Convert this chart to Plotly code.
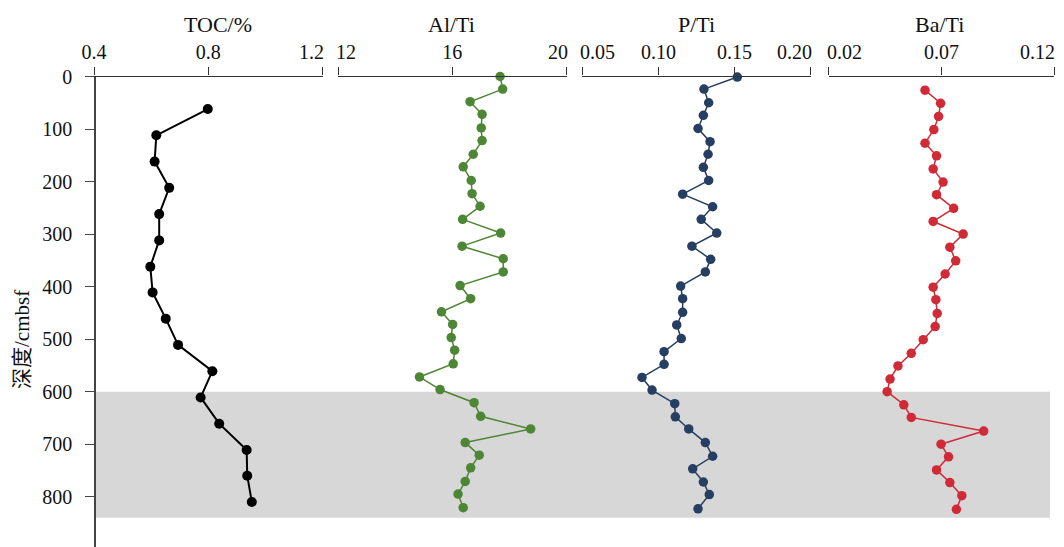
import plotly.graph_objects as go

# ---------------- data ----------------
toc_depth = [62, 112, 162, 212, 262, 312, 362, 411, 461, 511, 561, 611, 661, 711, 760, 810]
toc_value = [0.798, 0.618, 0.612, 0.663, 0.628, 0.628, 0.597, 0.605, 0.651, 0.694,
             0.814, 0.773, 0.838, 0.934, 0.936, 0.952]

alti_depth = [0, 24, 48, 72, 98, 122, 148, 172, 198, 223, 247, 272, 298, 323, 347, 372, 398,
              423, 448, 472, 497, 521, 547, 572, 596, 621, 647, 671, 697, 721, 745, 771, 795, 821]
alti_value = [17.67, 17.76, 16.62, 17.04, 17.01, 17.04, 16.73, 16.38, 16.66, 16.69, 16.97, 16.36,
              17.69, 16.34, 17.78, 17.78, 16.27, 16.64, 15.62, 16.01, 15.96, 16.08, 16.03, 14.85,
              15.57, 16.76, 16.99, 18.74, 16.45, 16.94, 16.64, 16.45, 16.20, 16.38]

pti_depth = [1, 24, 50, 74, 99, 124, 148, 173, 198, 224, 248, 272, 298, 323, 348, 372, 399,
             423, 449, 473, 499, 524, 548, 573, 597, 623, 648, 671, 697, 723, 747, 772, 796, 823]
pti_value = [0.1518, 0.1299, 0.1330, 0.1295, 0.1260, 0.1339, 0.1326, 0.1295, 0.1330, 0.1159,
             0.1356, 0.1281, 0.1383, 0.1220, 0.1343, 0.1308, 0.1146, 0.1159, 0.1159, 0.1120,
             0.1150, 0.1037, 0.1037, 0.0892, 0.0958, 0.1107, 0.1111, 0.1199, 0.1308, 0.1356,
             0.1225, 0.1295, 0.1334, 0.1260]

bati_depth = [26, 51, 76, 101, 127, 151, 176, 201, 225, 251, 276, 300, 325, 351, 376, 401, 425,
              451, 476, 501, 527, 551, 576, 600, 625, 649, 675, 700, 724, 749, 773, 798, 824]
bati_value = [0.0627, 0.0696, 0.0687, 0.0666, 0.0627, 0.0678, 0.0663, 0.0707, 0.0678, 0.0754,
              0.0663, 0.0796, 0.0737, 0.0763, 0.0716, 0.0663, 0.0675, 0.0681, 0.0672, 0.0619,
              0.0566, 0.0507, 0.0472, 0.0459, 0.0533, 0.0566, 0.0887, 0.0698, 0.0731, 0.0678,
              0.0737, 0.0790, 0.0766]

band_top = 600
band_bottom = 840

depth_ticks = [0, 100, 200, 300, 400, 500, 600, 700, 800, 900]
toc_ticks = [0.4, 0.8, 1.2]
toc_ticktext = ["0.4", "0.8", "1.2"]
alti_ticks = [12, 16, 20]
alti_ticktext = ["12", "16", "20"]
pti_ticks = [0.05, 0.10, 0.15, 0.20]
pti_ticktext = ["0.05", "0.10", "0.15", "0.20"]
bati_ticks = [0.02, 0.07, 0.12]
bati_ticktext = ["0.02", "0.07", "0.12"]

titles = ["TOC/%", "Al/Ti", "P/Ti", "Ba/Ti"]
ytitle = "深度/cmbsf"

# ---------------- layout geometry ----------------
OFF = 8                      # browser body margin
W, H = 1064 - OFF, 547 - OFF
SERIF = "Liberation Serif, Times New Roman, Noto Sans CJK SC, serif"
AXC = "#333333"
TXT = "#111111"


def fx(px):
    return (px - OFF) / W


def fy(py):
    return 1 - (py - OFF) / H


AXIS_Y_PX = 76.5
px_per_unit = 0.52525
y_bottom_val = (547 - AXIS_Y_PX) / px_per_unit

fig = go.Figure()

series = [
    (toc_value, toc_depth, "x", "#000000", 2.0, 10),
    (alti_value, alti_depth, "x2", "#4d8634", 1.5, 9.5),
    (pti_value, pti_depth, "x3", "#263e62", 1.5, 9.5),
    (bati_value, bati_depth, "x4", "#cf2a36", 1.5, 9.5),
]
for xv, yv, xa, col, lw, ms in series:
    fig.add_trace(go.Scatter(
        x=xv, y=yv, xaxis=xa, yaxis="y", mode="lines+markers",
        line=dict(color=col, width=lw),
        marker=dict(color=col, size=ms, symbol="circle"),
        showlegend=False, cliponaxis=False,
    ))

panels = [
    ((94, 322.7), [0.4, 1.2], toc_ticks, toc_ticktext, "x", True),
    ((338, 566.7), [12, 20], alti_ticks, alti_ticktext, "x2", False),
    ((582.3, 810.7), [0.05, 0.20], pti_ticks, pti_ticktext, "x3", False),
    ((828.7, 1054.3), [0.02, 0.12], bati_ticks, bati_ticktext, "x4", False),
]
title_px = [217.5, 451.3, 696.0, 939.3]

annotations = []
layout_axes = {}
LABEL_Y = 52
for i, (dom, rng, tv, tt, name, center_first) in enumerate(panels):
    # centred labels for inner ticks; end labels are aligned inwards next to their tick
    shown = []
    for j, t in enumerate(tt):
        if j == 0 and not center_first:
            annotations.append(dict(text=t, xref=name, yref="paper", x=tv[j], y=fy(LABEL_Y),
                                    xanchor="left", yanchor="middle", xshift=-4, showarrow=False,
                                    font=dict(family=SERIF, size=20, color=TXT)))
            shown.append("")
        elif j == len(tt) - 1:
            annotations.append(dict(text=t, xref=name, yref="paper", x=tv[j], y=fy(LABEL_Y),
                                    xanchor="right", yanchor="middle", xshift=3, showarrow=False,
                                    font=dict(family=SERIF, size=20, color=TXT)))
            shown.append("")
        else:
            shown.append(t)
    key = "xaxis" if i == 0 else f"xaxis{i + 1}"
    layout_axes[key] = dict(
        domain=[fx(dom[0]), fx(dom[1])], range=rng, anchor="y", side="top",
        showline=True, linecolor=AXC, linewidth=1.3,
        ticks="outside", ticklen=8, tickwidth=1.3, tickcolor=AXC,
        tickvals=tv, ticktext=shown,
        tickfont=dict(family=SERIF, size=20, color=TXT),
        showgrid=False, zeroline=False, automargin=False, fixedrange=True,
    )
    annotations.append(dict(text=titles[i], xref="paper", yref="paper", x=fx(title_px[i]),
                            y=fy(24.5), xanchor="center", yanchor="middle", showarrow=False,
                            font=dict(family=SERIF, size=22, color=TXT)))

annotations.append(dict(
    text=ytitle, xref="paper", yref="paper", x=fx(22), y=fy(340),
    textangle=-90, showarrow=False, xanchor="center", yanchor="middle",
    font=dict(family=SERIF, size=21, color=TXT),
))

fig.update_layout(
    width=W, height=H,
    margin=dict(l=0, r=0, t=0, b=0),
    paper_bgcolor="white", plot_bgcolor="rgba(0,0,0,0)",
    yaxis=dict(
        domain=[0, fy(AXIS_Y_PX)], range=[y_bottom_val, 0], anchor="free", position=fx(95),
        showline=True, linecolor="#444444", linewidth=1.5,
        ticks="outside", ticklen=9, tickwidth=1.3, tickcolor="#444444",
        tickvals=depth_ticks, ticklabelstandoff=9,
        tickfont=dict(family=SERIF, size=20, color=TXT),
        showgrid=False, zeroline=False, automargin=False, fixedrange=True,
    ),
    shapes=[dict(
        type="rect", xref="paper", yref="y", x0=fx(95), x1=fx(1050),
        y0=band_top, y1=band_bottom, fillcolor="#d8d7d8", line=dict(width=0), layer="below",
    )],
    annotations=annotations,
    **layout_axes,
)

fig.write_html("out.html")
